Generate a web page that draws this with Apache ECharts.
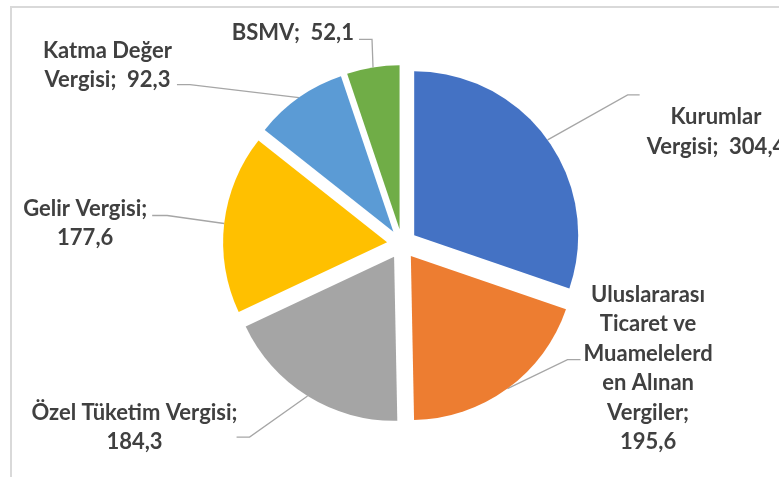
<!DOCTYPE html>
<html><head><meta charset="utf-8">
<script src="https://cdn.jsdelivr.net/npm/echarts@6/dist/echarts.min.js"></script>
<style>html,body{margin:0;padding:0;background:#fff}#c{width:779px;height:477px}</style>
</head><body><div id="c"></div>
<script>
const categories = ['Kurumlar Vergisi', 'Uluslararası Ticaret ve Muamelelerden Alınan Vergiler', 'Özel Tüketim Vergisi', 'Gelir Vergisi', 'Katma Değer Vergisi', 'BSMV'];
const values = [304.4, 195.6, 184.3, 177.6, 92.3, 52.1];
const labelTexts = ['Kurumlar\nVergisi;  ', 'Uluslararası\nTicaret ve\nMuamelelerd\nen Alınan\nVergiler;\n', 'Özel Tüketim Vergisi;\n', 'Gelir Vergisi;\n', 'Katma Değer\nVergisi;  ', 'BSMV;  '];
const colors = ['#4472C4', '#ED7D31', '#A5A5A5', '#FFC000', '#5B9BD5', '#70AD47'];

const CX = 402, CY = 244, R = 164, OFF = 15;
// leader-line layout: elbow offset from the arc anchor, horizontal run, gap to label, vertical label shift
const leader = [
  {ex: 80, ey: -45, run: 12, gap: 7, dy: 37},
  {ex: 60, ey: -29, run: 13, gap: 3, dy: 9},
  {ex: -58, ey: 41, run: -13, gap: -1, dy: -9.5},
  {ex: -57, ey: -8, run: -15, gap: 5, dy: 8},
  {ex: -109, ey: -13, run: -13, gap: 5, dy: -19},
  {ex: -1, ey: -28, run: -13, gap: 5, dy: -6}
];
const total = values.reduce((a, b) => a + b, 0);
const mids = []; let acc = 0;
values.forEach(v => { mids.push((acc + v / 2) / total * 2 * Math.PI); acc += v; });
const fmt = v => v.toFixed(1).replace('.', ',');
const HIDDEN = 'rgba(0,0,0,0)';

// one pie per slice, each shifted outward along its own mid-angle (exploded pie)
const series = values.map((_, i) => {
  const ux = Math.sin(mids[i]), uy = -Math.cos(mids[i]);
  const cx = CX + ux * OFF, cy = CY + uy * OFF;
  return {
    type: 'pie',
    center: [cx, cy],
    radius: R,
    startAngle: 90,
    clockwise: true,
    silent: true,
    avoidLabelOverlap: false,
    z: 2,
    data: categories.map((n, j) => (j === i
      ? {name: n, value: values[j], itemStyle: {color: colors[j]}}
      : {name: n, value: values[j], itemStyle: {color: HIDDEN}, label: {show: false}, labelLine: {show: false}})),
    label: {
      show: true, position: 'outside',
      formatter: p => labelTexts[p.dataIndex] + fmt(p.value),
      color: '#404040', fontFamily: 'Lato', fontWeight: 'bold', fontSize: 22, lineHeight: 29.5, align: 'center'
    },
    labelLine: {show: true, length: 20, length2: 10, lineStyle: {color: '#A6A6A6', width: 1.3}},
    labelLayout: function (params) {
      const k = params.dataIndex;
      if (k !== i) return {};
      const L = leader[k];
      const A = [cx + ux * R, cy + uy * R];
      const B = [A[0] + L.ex, A[1] + L.ey];
      const E = [B[0] + L.run, B[1]];
      const side = L.run > 0 ? 1 : -1;
      const w = params.labelRect.width;
      return {
        x: E[0] + side * (L.gap + w / 2),
        y: E[1] + L.dy,
        align: 'center',
        verticalAlign: 'middle',
        labelLinePoints: [A, B, E]
      };
    },
    emphasis: {disabled: true}
  };
});

const chart = echarts.init(document.getElementById('c'), null, {renderer: 'canvas'});
chart.setOption({
  animation: false,
  backgroundColor: '#fff',
  graphic: [{type: 'rect', silent: true, z: -10, shape: {x: 11, y: 7, width: 900, height: 600}, style: {fill: 'none', stroke: '#D9D9D9', lineWidth: 2}}],
  series: series
});
</script>
</body></html>
